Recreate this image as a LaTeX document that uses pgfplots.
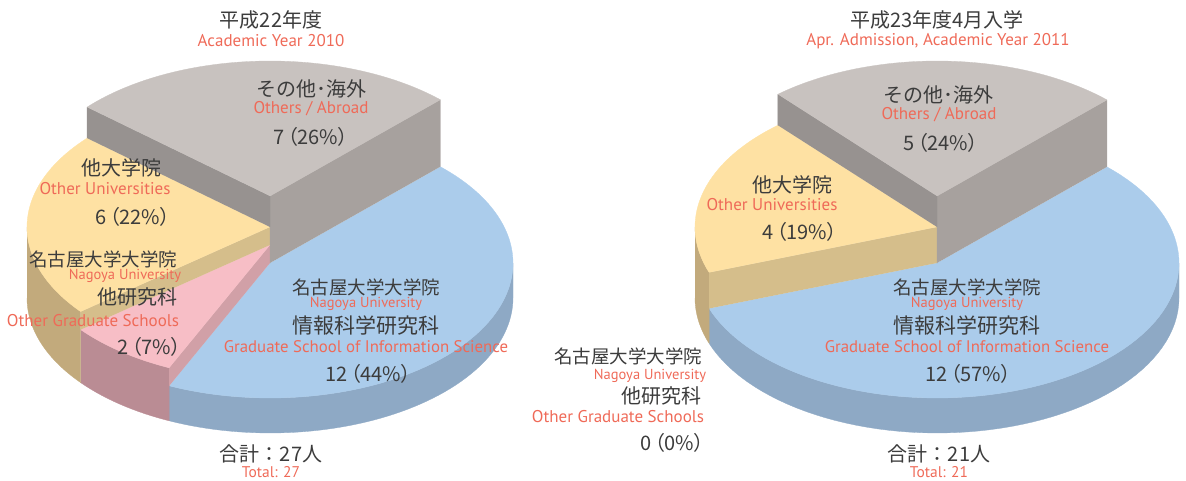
\documentclass[border=0pt]{standalone}
\usepackage{fontspec}
\setmainfont{Noto Sans CJK JP}
\newfontfamily\lat{PT Sans}
\newfontfamily\num[RawFeature=+palt]{Noto Sans CJK JP}
\usepackage{pgfplots}
\usepackage{pgfplotstable}
\pgfplotsset{compat=1.18}

\definecolor{bluetop}{HTML}{ABCCEB}
\definecolor{blueside}{HTML}{8EA9C5}
\definecolor{graytop}{HTML}{C8C2BF}
\definecolor{grayfaceR}{HTML}{A7A19E}
\definecolor{grayfaceL}{HTML}{979290}
\definecolor{yeltop}{HTML}{FEE1A3}
\definecolor{yelface}{HTML}{D5BE8B}
\definecolor{yelside}{HTML}{C2AA7C}
\definecolor{pinktop}{HTML}{F7BEC6}
\definecolor{pinkface}{HTML}{D1A0A7}
\definecolor{pinkside}{HTML}{BA8C94}
\definecolor{txt}{HTML}{3C3C3C}
\definecolor{red}{HTML}{EF6A58}

% counts per category (2010, 2011) and drawn slice height (px)
\pgfplotstableread{
slice n2010 n2011 height
other 7     5     102
univ  6     4     71
grad  2     0     53
info  12    12    35
}\counts

% top face of a sector: cx by rx ry h a1 a2 colour
\newcommand{\topface}[8]{%
 \addplot[fill=#8, draw=#8, line width=0.3pt, line join=round, samples at={-1,0,1,...,90}, variable=\t]
  ({ifthenelse(\t<0, #1, #1+#3*cos(#6+(#7-#6)*\t/90))},
   {ifthenelse(\t<0, #2-#5, #2-#5-#4*sin(#6+(#7-#6)*\t/90))});}
% outer curved wall: cx by rx ry h a1 a2 colour
\newcommand{\wall}[8]{%
 \addplot[fill=#8, draw=#8, line width=0.3pt, line join=round, samples at={0,1,...,121}, variable=\t]
  ({#1+#3*cos(ifthenelse(\t<60.5, #6+(#7-#6)*\t/60, #7-(#7-#6)*(\t-61)/60))},
   {#2-ifthenelse(\t<60.5,#5,0)-#4*sin(ifthenelse(\t<60.5, #6+(#7-#6)*\t/60, #7-(#7-#6)*(\t-61)/60))});}
% radial face: cx by rx ry hlo hhi angle colour
\newcommand{\radial}[8]{%
 \addplot[fill=#8, draw=#8, line width=0.3pt, line join=round]
  table[row sep=\\, x expr={#1+\thisrow{r}*#3*cos(#7)}, y expr={#2-\thisrow{h}-\thisrow{r}*#4*sin(#7)}]
  {r h\\ 0 #5\\ 0 #6\\ 1 #6\\ 1 #5\\};}

\newcommand{\fs}[1]{\fontsize{#1}{#1}\selectfont}
\newcommand{\en}[1]{\lat\fontsize{#1}{#1}\selectfont}
\newcommand{\nm}[1]{\num\fontsize{#1}{#1}\selectfont}

\begin{document}
\begin{tikzpicture}
\pgfplotstablegetelem{0}{n2010}\of\counts \edef\La{\pgfplotsretval}
\pgfplotstablegetelem{1}{n2010}\of\counts \edef\Lb{\pgfplotsretval}
\pgfplotstablegetelem{2}{n2010}\of\counts \edef\Lc{\pgfplotsretval}
\pgfplotstablegetelem{3}{n2010}\of\counts \edef\Ld{\pgfplotsretval}
\pgfplotstablegetelem{0}{n2011}\of\counts \edef\Ra{\pgfplotsretval}
\pgfplotstablegetelem{1}{n2011}\of\counts \edef\Rb{\pgfplotsretval}
\pgfplotstablegetelem{2}{n2011}\of\counts \edef\Rc{\pgfplotsretval}
\pgfplotstablegetelem{3}{n2011}\of\counts \edef\Rd{\pgfplotsretval}
\pgfplotstablegetelem{0}{height}\of\counts \edef\hG{\pgfplotsretval}
\pgfplotstablegetelem{1}{height}\of\counts \edef\hY{\pgfplotsretval}
\pgfplotstablegetelem{2}{height}\of\counts \edef\hP{\pgfplotsretval}
\pgfplotstablegetelem{3}{height}\of\counts \edef\hB{\pgfplotsretval}
\pgfmathsetmacro\Ltot{\La+\Lb+\Lc+\Ld}
\pgfmathsetmacro\LA{45.5}
\pgfmathsetmacro\LB{\LA+360*\La/\Ltot}
\pgfmathsetmacro\LC{\LB+360*\Lb/\Ltot}
\pgfmathsetmacro\LD{\LC+360*\Lc/\Ltot}
\pgfmathsetmacro\LE{\LD+360*\Ld/\Ltot}
\pgfmathsetmacro\Rtot{\Ra+\Rb+\Rc+\Rd}
\pgfmathsetmacro\RA{45.4}
\pgfmathsetmacro\RB{\RA+360*\Ra/\Rtot}
\pgfmathsetmacro\RC{\RB+360*\Rb/\Rtot}
\pgfmathsetmacro\RD{\RC+360*\Rc/\Rtot}
\pgfmathsetmacro\RE{\RD+360*\Rd/\Rtot}
\begin{axis}[width=1186pt, height=481pt, scale only axis, xmin=0, xmax=1186, ymin=0, ymax=481,
  y dir=reverse, hide axis, clip=false, anchor=south west, at={(0pt,0pt)}]
% ---------- left pie (2010) ----------
\wall{270}{298}{243}{135}{\hB}{\LD}{360}{blueside}
\topface{270}{298}{243}{135}{\hB}{\LD}{\LE}{bluetop}
\wall{270}{298}{243}{135}{\hP}{\LC}{\LD}{pinkside}
\radial{270}{298}{243}{135}{\hB}{\hP}{\LD}{pinkface}
\topface{270}{298}{243}{135}{\hP}{\LC}{\LD}{pinktop}
\wall{270}{298}{243}{135}{\hY}{180}{\LC}{yelside}
\radial{270}{298}{243}{135}{\hP}{\hY}{\LC}{yelface}
\topface{270}{298}{243}{135}{\hY}{\LB}{\LC}{yeltop}
\radial{270}{298}{243}{135}{\hB}{\hG}{\LA}{grayfaceR}
\radial{270}{298}{243}{135}{\hY}{\hG}{\LB}{grayfaceL}
\topface{270}{298}{243}{135}{\hG}{\LA}{\LB}{graytop}
% ---------- right pie (2011) ----------
\wall{937}{298}{242}{135}{\hB}{\RD}{360}{blueside}
\topface{937}{298}{242}{135}{\hB}{\RD}{\RE}{bluetop}
\wall{937}{298}{242}{135}{\hY}{180}{\RC}{yelside}
\radial{937}{298}{242}{135}{\hB}{\hY}{\RC}{yelface}
\topface{937}{298}{242}{135}{\hY}{\RB}{\RC}{yeltop}
\radial{937}{298}{242}{135}{\hB}{\hG}{\RA}{grayfaceR}
\radial{937}{298}{242}{135}{\hY}{\hG}{\RB}{grayfaceL}
\topface{937}{298}{242}{135}{\hG}{\RA}{\RB}{graytop}

\begin{scope}[every node/.style={inner sep=0pt, text=txt}]
% ---------- labels left ----------
\node at (axis cs:271,20) {\fs{20}平成22年度};
\node[text=red] at (axis cs:271,41) {\en{17}Academic Year 2010};
\node at (axis cs:311,89) {\fs{20}その他･海外};
\node[text=red] at (axis cs:311,109) {\en{17}Others / Abroad};
\node[anchor=west] at (axis cs:273,137) {\nm{20}7\,（26\%）};
\node at (axis cs:121,168) {\fs{20}他大学院};
\node[text=red] at (axis cs:105,189) {\en{17}Other Universities};
\node[anchor=west] at (axis cs:95,217) {\nm{20}6\,（22\%）};
\node at (axis cs:103,259) {\fs{18.5}名古屋大学大学院};
\node[text=red] at (axis cs:125,276) {\en{14.5}Nagoya University};
\node at (axis cs:137,297) {\fs{20}他研究科};
\node[text=red] at (axis cs:93,321) {\en{17}Other Graduate Schools};
\node[anchor=west] at (axis cs:117,347) {\nm{20}2\,（7\%）};
\node at (axis cs:366,287) {\fs{18.5}名古屋大学大学院};
\node[text=red] at (axis cs:366,304) {\en{14.5}Nagoya University};
\node at (axis cs:366,326) {\fs{21}情報科学研究科};
\node[text=red] at (axis cs:366,347) {\en{16.8}Graduate School of Information Science};
\node[anchor=west] at (axis cs:325,374) {\nm{20}12\,（44\%）};
\node at (axis cs:271,454) {\fs{20}合計：27人};
\node[text=red] at (axis cs:271,472) {\en{15.5}Total: 27};
% ---------- labels right ----------
\node at (axis cs:937,20) {\fs{20}平成23年度4月入学};
\node[text=red] at (axis cs:938,41) {\en{17}Apr. Admission, Academic Year 2011};
\node at (axis cs:938,95) {\fs{20}その他･海外};
\node[text=red] at (axis cs:939,115) {\en{17}Others / Abroad};
\node[anchor=west] at (axis cs:903,143) {\nm{20}5\,（24\%）};
\node at (axis cs:792,185) {\fs{20}他大学院};
\node[text=red] at (axis cs:772,205) {\en{17}Other Universities};
\node[anchor=west] at (axis cs:762,232) {\nm{20}4\,（19\%）};
\node at (axis cs:967,287) {\fs{18.5}名古屋大学大学院};
\node[text=red] at (axis cs:967,304) {\en{14.5}Nagoya University};
\node at (axis cs:967,326) {\fs{21}情報科学研究科};
\node[text=red] at (axis cs:967,347) {\en{16.8}Graduate School of Information Science};
\node[anchor=west] at (axis cs:925,374) {\nm{20}12\,（57\%）};
\node at (axis cs:628,356) {\fs{18.5}名古屋大学大学院};
\node[text=red] at (axis cs:650,376) {\en{14.5}Nagoya University};
\node at (axis cs:661,396) {\fs{20}他研究科};
\node[text=red] at (axis cs:618,417) {\en{17}Other Graduate Schools};
\node[anchor=west] at (axis cs:640,443) {\nm{20}0\,（0\%）};
\node at (axis cs:939,454) {\fs{20}合計：21人};
\node[text=red] at (axis cs:939,472) {\en{15.5}Total: 21};
\end{scope}
\end{axis}
\pgfresetboundingbox
\useasboundingbox (0pt,0pt) rectangle (1186pt,481pt);
\end{tikzpicture}
\end{document}
